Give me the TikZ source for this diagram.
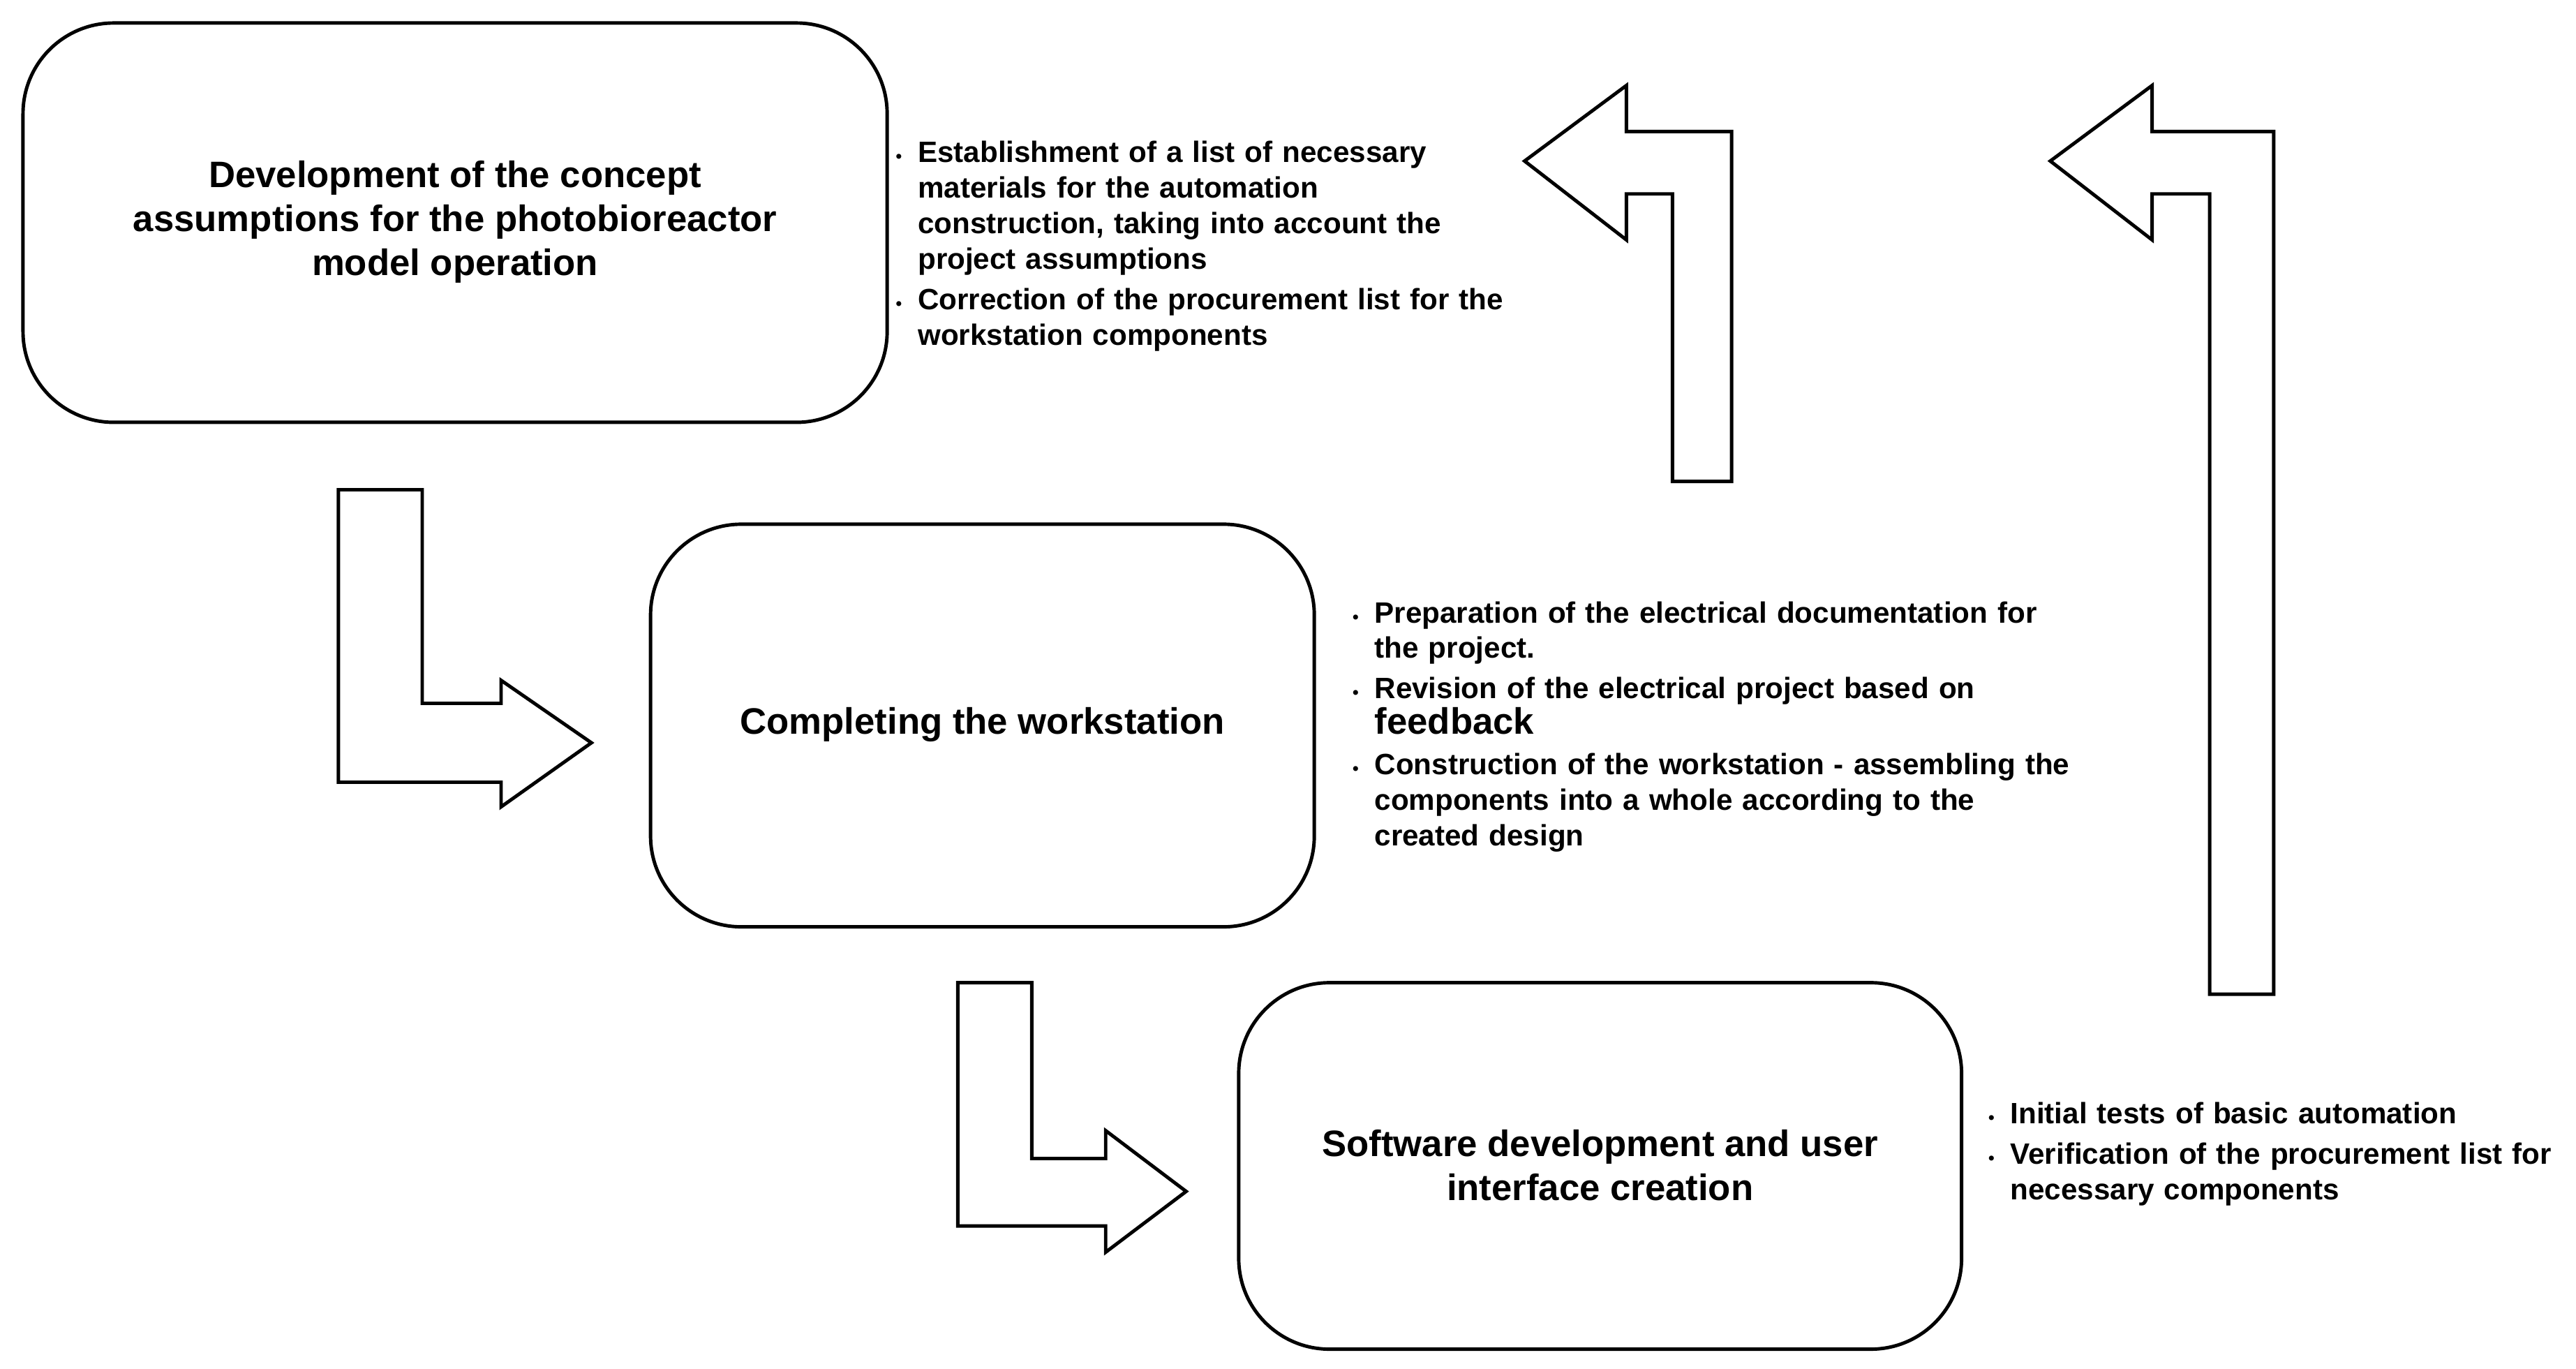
\documentclass[tikz,border=0pt]{standalone}
\usepackage{fontspec}
\setmainfont{Liberation Sans}
\newcommand{\bitem}[1]{\par\hangindent=0.75em\hangafter=1\noindent\makebox[0.75em][l]{\scriptsize\textbullet}#1\par\vspace{2pt}}
\begin{document}
\begin{tikzpicture}[x=0.02354cm,y=-0.02354cm,
  box/.style={draw,line width=1.4pt,rounded corners=1.3cm,fill=white},
  arr/.style={draw,line width=1.4pt,fill=white,line join=miter},
  title/.style={font=\bfseries\fontsize{15}{18}\selectfont,align=center},
  lst/.style={font=\bfseries\fontsize{12}{14.5}\selectfont,anchor=north west,inner sep=0pt}]
\useasboundingbox (0,0) rectangle (1568,833);
\draw[box] (14,14) rectangle (540,257);
\draw[box] (396,319) rectangle (800,564);
\draw[box] (754,598) rectangle (1194,821);
\node[title] (t1) at (277,135) {Development of the concept\\assumptions for the photobioreactor\\model operation};
\node[title] (t2) at (598,441) {Completing the workstation};
\node[title] (t3) at (974,709) {Software development and user\\interface creation};
\draw[arr] (206,298)--(257,298)--(257,428)--(305,428)--(305,414)--(360,452)--(305,491)--(305,476)--(206,476)--cycle;
\draw[arr] (583,598)--(628,598)--(628,705)--(673,705)--(673,688)--(722,725)--(673,762)--(673,746)--(583,746)--cycle;
\draw[arr] (1018,293)--(1054,293)--(1054,80)--(990,80)--(990,52)--(928,98)--(990,146)--(990,118)--(1018,118)--cycle;
\draw[arr] (1345,605)--(1384,605)--(1384,80)--(1310,80)--(1310,52)--(1248,98)--(1310,146)--(1310,118)--(1345,118)--cycle;
\node[lst,text width=370*0.02354cm] (l1) at (545,77) {\raggedright
\bitem{Establishment of a list of necessary materials for the automation construction, taking into account the project assumptions}
\bitem{Correction of the procurement list for the workstation components}};
\node[lst,text width=440*0.02354cm] (l2) at (823,357) {\raggedright
\bitem{Preparation of the electrical documentation for the project.}
\bitem{Revision of the electrical project based on {\fontsize{15}{15}\selectfont feedback}}
\bitem{Construction of the workstation - assembling the components into a whole according to the created design}};
\node[lst,text width=350*0.02354cm] (l3) at (1210,662) {\raggedright
\bitem{Initial tests of basic automation}
\bitem{Verification of the procurement list for necessary components}};
\end{tikzpicture}
\end{document}
